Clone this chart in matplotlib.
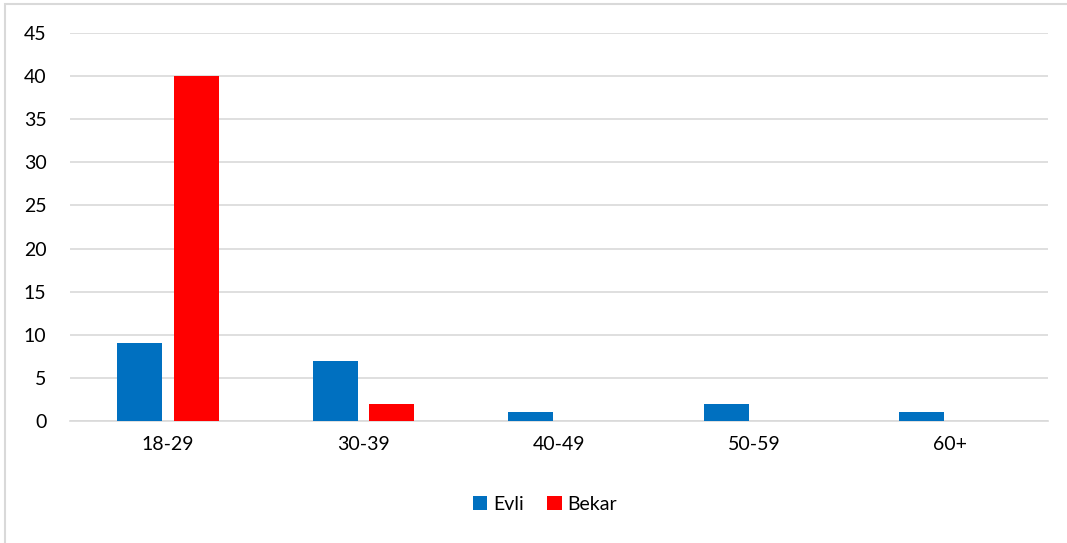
import matplotlib
matplotlib.use("Agg")
import matplotlib.pyplot as plt
import numpy as np
from matplotlib.patches import Rectangle

categories = ["18-29", "30-39", "40-49", "50-59", "60+"]
evli = [9, 7, 1, 2, 1]
bekar = [40, 2, 0, 0, 0]
yticks = [0, 5, 10, 15, 20, 25, 30, 35, 40, 45]

plt.rcParams['font.family'] = ['Lato', 'DejaVu Sans']

fig = plt.figure(figsize=(10.67, 5.43), dpi=100)
ax = fig.add_axes([70/1067, 1-421/543, (1048-70)/1067, (421-33)/543])

x = np.arange(len(categories))
w = 0.23
ax.bar(x - 0.145, evli, width=w, color="#0070C0", label="Evli", zorder=3)
ax.bar(x + 0.145, bekar, width=w, color="#FF0000", label="Bekar", zorder=3)

ax.set_xlim(-0.5, len(categories) - 0.5)
ax.set_ylim(0, 45)
ax.set_yticks(yticks)
ax.set_xticks(x)
ax.set_xticklabels(categories)
ax.grid(axis="y", color="#d9d9d9", linewidth=1.2, zorder=0)
ax.set_axisbelow(True)
for s in ["top", "right", "left"]:
    ax.spines[s].set_visible(False)
ax.spines["bottom"].set_color("#d9d9d9")
ax.spines["bottom"].set_linewidth(1.2)
ax.tick_params(axis="both", length=0, labelsize=14, colors="#000000")
ax.tick_params(axis="y", pad=17)
ax.tick_params(axis="x", pad=11)

leg = fig.legend(loc="center", bbox_to_anchor=(545/1067, 1-504/543), ncol=2,
                 frameon=False, fontsize=14, handlelength=0.75, handleheight=0.75,
                 handletextpad=0.3, columnspacing=1.2)

# outer chart border
fig.patches.append(Rectangle((5/1067, -0.1), 1.2, 1 - 4/543 + 0.1, transform=fig.transFigure,
                             fill=False, edgecolor="#d9d9d9", linewidth=1.5))

fig.savefig("out.png", dpi=100)
